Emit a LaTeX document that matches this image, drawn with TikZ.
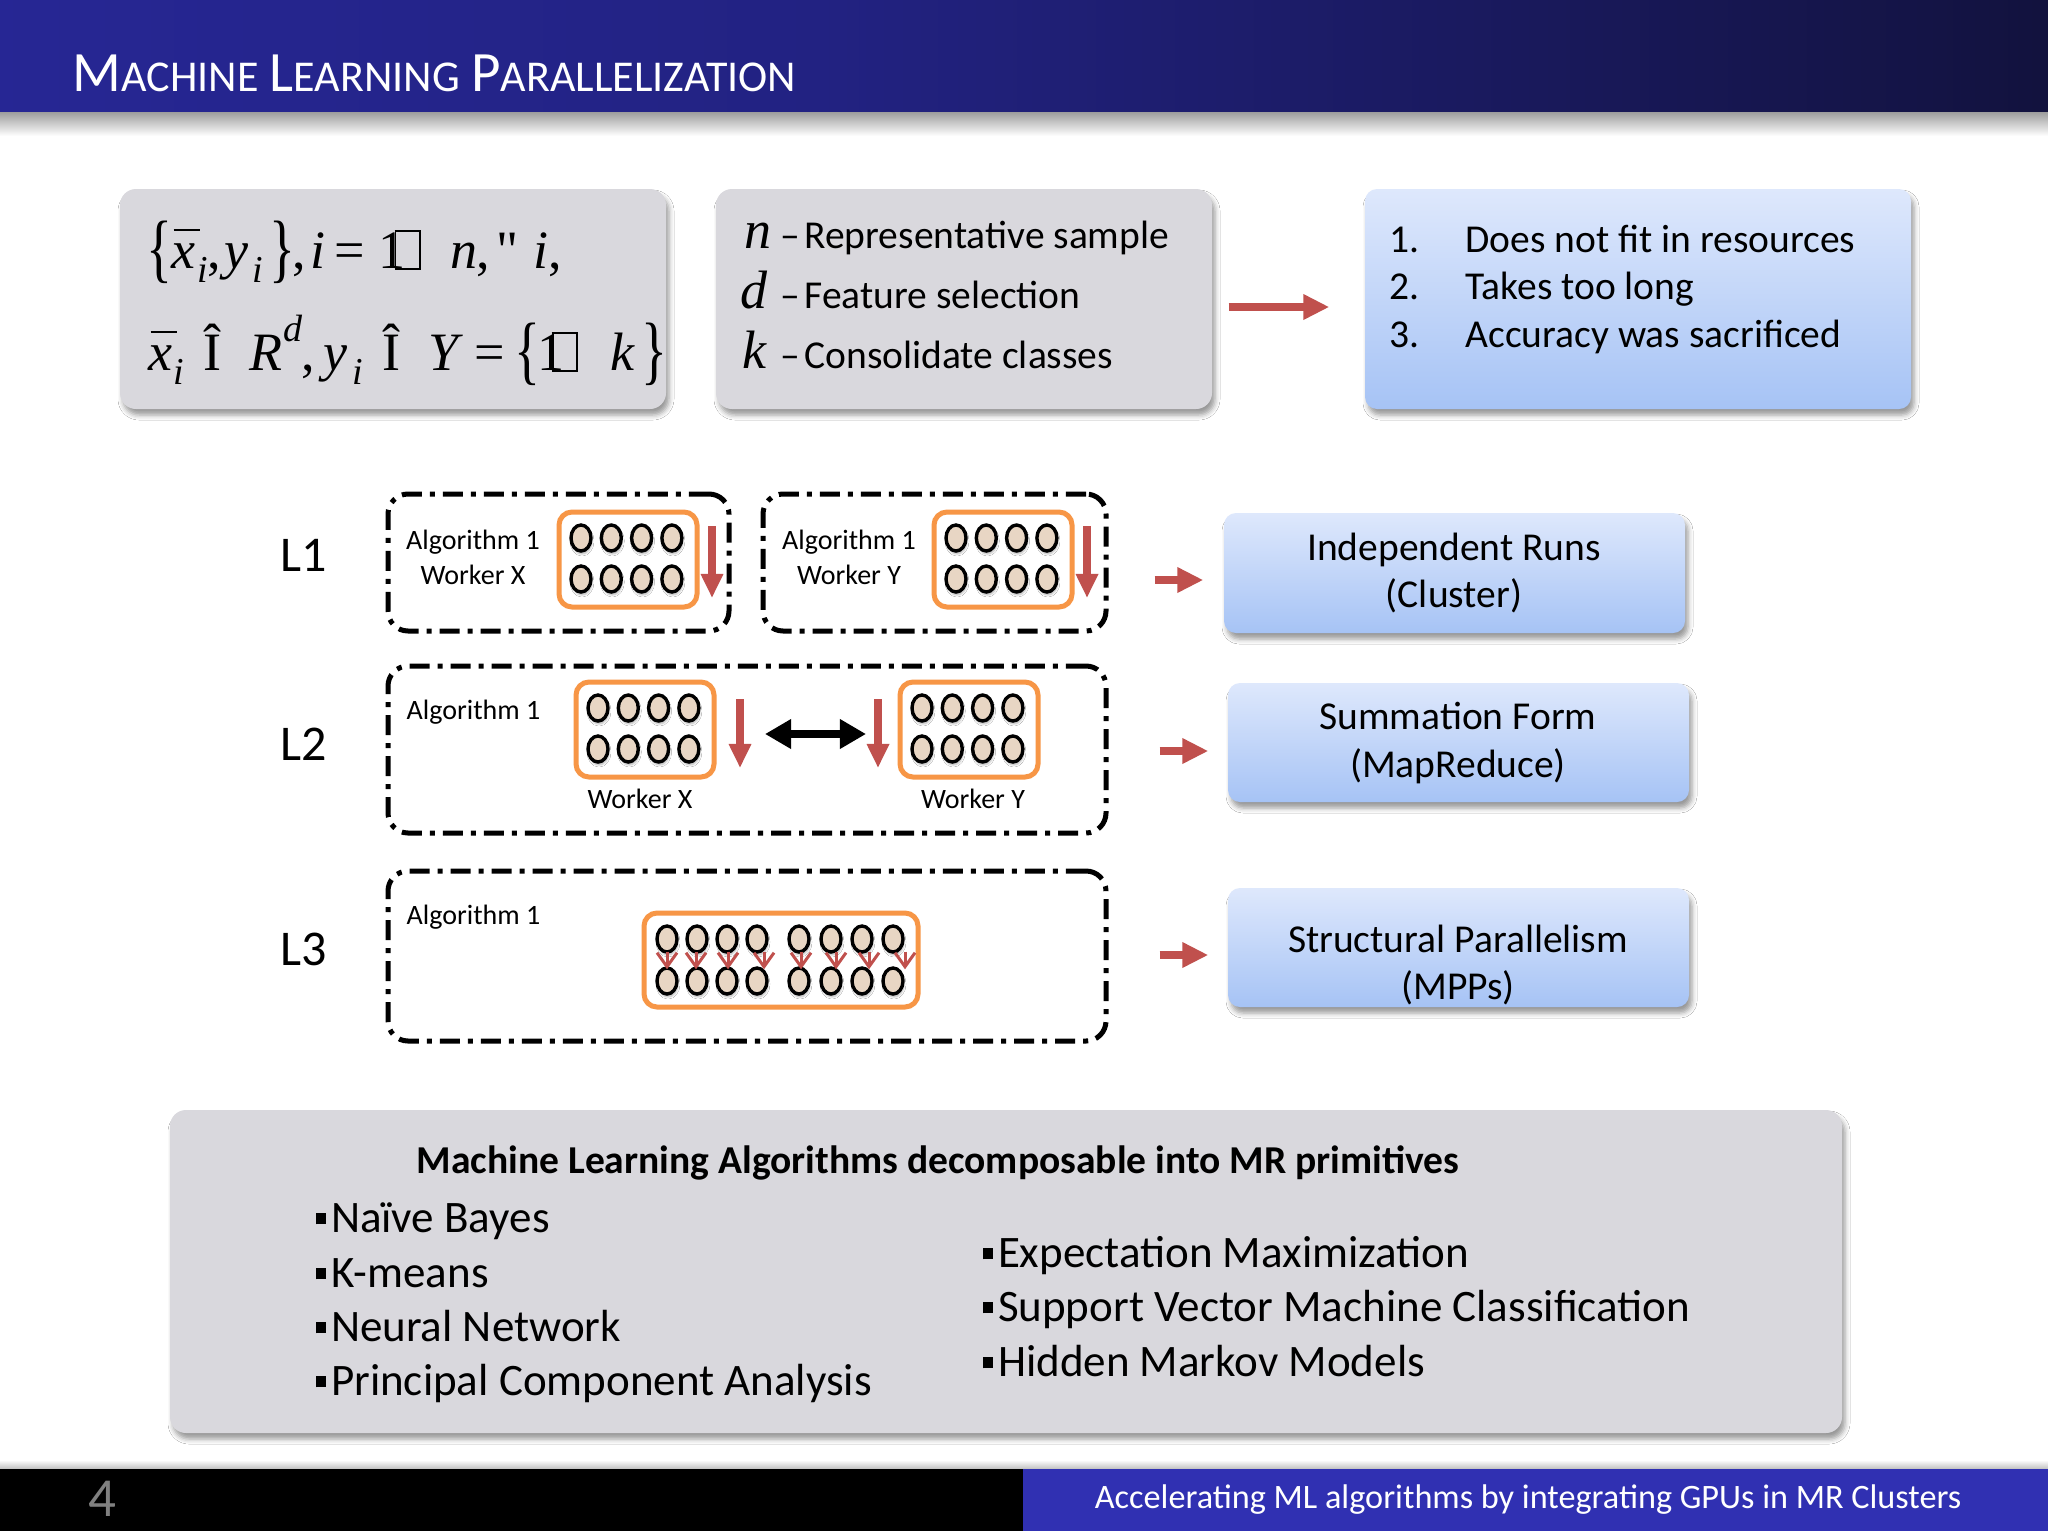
\documentclass[tikz,border=0pt]{standalone}
\usepackage{fontspec}
\setmainfont{Carlito}
\newfontfamily\tnr{Liberation Serif}
\usetikzlibrary{arrows.meta,shadows.blur,fit,calc,shapes.geometric}
\newcommand\px[2][1.2]{\fontsize{\fpeval{#2*0.28453}pt}{\fpeval{#2*0.28453*#1}pt}\selectfont}
\newcommand\gl[2]{\makebox[0pt][l]{\hspace*{\fpeval{#1*0.01}cm}#2}}
\newcommand\xb{\rlap{\hspace{0.04em}\rule[0.68em]{0.48em}{0.045em}}\textit{x}}
\newcommand\sbi{\raisebox{-0.14cm}{\px{38}\itshape i}}
\newcommand\spd{\raisebox{0.28cm}{\px{38}\itshape d}}
\newcommand\mbx{{\setlength\fboxsep{0pt}\setlength\fboxrule{0.035em}\fbox{\rule{0pt}{0.66em}\rule{0.42em}{0pt}}}}
\newcommand\bigbr[1]{\raisebox{-0.1em}{\scalebox{1}[1.4]{#1}}}
\newcommand\fsc[2]{{\px{57}#1}{\px{44}#2}}
\newcommand\bul{\rule[0.17em]{0.22em}{0.26em}\hspace{0.12em}}
\definecolor{hblue}{RGB}{44,44,170}
\definecolor{hblue2}{RGB}{34,34,130}
\definecolor{hmid}{RGB}{20,20,70}
\definecolor{hdark}{RGB}{5,5,12}
\definecolor{fblue}{RGB}{48,48,178}
\definecolor{boxgray}{RGB}{217,216,221}
\definecolor{btop}{RGB}{222,232,252}
\definecolor{bbot}{RGB}{166,195,245}
\definecolor{rred}{RGB}{192,80,77}
\definecolor{oorange}{RGB}{247,150,70}
\definecolor{beige}{RGB}{232,214,196}
\pgfdeclarehorizontalshading{hdr}{100bp}{color(0bp)=(hblue); color(45bp)=(hblue2); color(72bp)=(hmid); color(92bp)=(hdark); color(100bp)=(hdark)}
\newcommand\wbox[3]{%
  \node[obox, fit={(#2,#3) (#2+138,#3+95)}] (#1) {};
  \foreach \k in {0,...,3}{%
    \node[dot] (#1t\k) at (#2+22+30.3*\k, #3+26) {};
    \node[dot] (#1b\k) at (#2+22+30.3*\k, #3+67) {};
  }%
}
\begin{document}
\begin{tikzpicture}[x=0.01cm,y=-0.01cm,
  graybox/.style={fill=boxgray, rounded corners=0.16cm, inner sep=0,
    blur shadow={shadow xshift=0.03cm, shadow yshift=-0.06cm, shadow blur radius=0.05cm, shadow opacity=40}},
  bluebox/.style={top color=btop, bottom color=bbot, rounded corners=0.12cm, inner sep=0,
    blur shadow={shadow xshift=0.03cm, shadow yshift=-0.06cm, shadow blur radius=0.05cm, shadow opacity=40}},
  dbox/.style={draw=black, line width=0.05cm, dash pattern=on 0.2cm off 0.08cm on 0.05cm off 0.08cm, rounded corners=0.2cm, inner sep=0},
  obox/.style={draw=oorange, line width=0.05cm, rounded corners=0.13cm, fill=white, inner sep=0},
  dot/.style={ellipse, draw=black, line width=0.034cm, fill=beige, minimum width=0.2cm, minimum height=0.26cm, inner sep=0,
    blur shadow={shadow xshift=0.01cm, shadow yshift=-0.03cm, shadow blur radius=0.02cm, shadow opacity=30}},
  redarr/.style={draw=rred, line width=0.075cm, -{Triangle[length=0.26cm,width=0.24cm]}},
  downarr/.style={draw=rred, line width=0.08cm, -{Triangle[length=0.24cm,width=0.21cm]}},
  dblarr/.style={draw=black, line width=0.08cm, {Triangle[length=0.26cm,width=0.28cm]}-{Triangle[length=0.26cm,width=0.28cm]}},
  smallarr/.style={draw=rred, line width=0.03cm, -{Straight Barb[length=0.14cm,width=0.2cm]}},
  txt/.style={inner sep=0}
]
\useasboundingbox (0,0) rectangle (2048,1536);
\fill[white] (0,0) rectangle (2048,1536);
% header
\shade[top color=black!45, bottom color=white] (0,108) rectangle (2048,136);
\shade[shading=hdr] (0,0) rectangle (2048,111);
\node[txt, anchor=base west, text=white, font={\px{50}}] (title) at (72,91) {\fsc{M}{ACHINE} \fsc{L}{EARNING} \fsc{P}{ARALLELIZATION}};
% footer
\shade[top color=white, bottom color=black!25] (0,1460) rectangle (2048,1469);
\fill[black] (0,1469) rectangle (1023,1531);
\fill[fblue] (1023,1469) rectangle (2048,1531);
\node[txt, anchor=base, text=black!50, font={\px{55}}] (pg) at (102,1516) {4};
\node[txt, anchor=base east, text=white, font={\px{34.2}}] (foot) at (1962,1508) {Accelerating ML algorithms by integrating GPUs in MR Clusters};
% top boxes
\node[graybox, fit={(120,189) (666,409)}] (A) {};
\node[graybox, fit={(716,189) (1212,409)}] (B) {};
\node[bluebox, fit={(1365,189) (1911,409)}] (C) {};
\node[txt, anchor=base west, font={\tnr\px{54}}] (A1) at (144,268) {\gl{0}{\bigbr{\{}}\gl{25}{\xb}\gl{51}{\sbi}\gl{61}{,}\gl{78}{\textit{y}}\gl{106}{\sbi}\gl{123}{\bigbr{\}}}\gl{146}{,}\gl{164}{\textit{i}}\gl{188}{=}\gl{232}{1}\gl{248}{\mbx}\gl{304}{\textit{n}}\gl{330}{,}\gl{350}{"}\gl{387}{\textit{i}}\gl{402}{,}};
\node[txt, anchor=base west, font={\tnr\px{54}}] (A2) at (144,370) {\gl{2}{\xb}\gl{27}{\sbi}\gl{57}{Î}\gl{103}{\textit{R}}\gl{137}{\spd}\gl{155}{,}\gl{177}{\textit{y}}\gl{206}{\sbi}\gl{236}{Î}\gl{282}{\textit{Y}}\gl{328}{=}\gl{368}{\bigbr{\{}}\gl{391}{1}\gl{405}{\mbx}\gl{464}{\textit{k}}\gl{495}{\bigbr{\}}}};
\node[txt, anchor=base west, font={\px{39.5}}] (B1) at (742,248) {\gl{0}{\tnr\itshape\px{54}n}\gl{36}{–}\gl{60}{Representative sample}};
\node[txt, anchor=base west, font={\px{39.5}}] (B2) at (742,308) {\gl{-4}{\tnr\itshape\px{54}d}\gl{36}{–}\gl{60}{Feature selection}};
\node[txt, anchor=base west, font={\px{39.5}}] (B3) at (742,368) {\gl{-2}{\tnr\itshape\px{54}k}\gl{36}{–}\gl{60}{Consolidate classes}};
\node[txt, anchor=base west, font={\px{39.5}}] (C1) at (1387,252) {\gl{0}{1.}\gl{76}{Does not fit in resources}};
\node[txt, anchor=base west, font={\px{39.5}}] (C2) at (1387,299) {\gl{0}{2.}\gl{76}{Takes too long}};
\node[txt, anchor=base west, font={\px{39.5}}] (C3) at (1387,347) {\gl{0}{3.}\gl{76}{Accuracy was sacrificed}};
\draw[redarr] ($(B.east)+(16,8)$) -- ($(C.west)+(-35,8)$);
% levels
\node[txt, font={\px{50}}] (L1) at (304,555) {L1};
\node[txt, font={\px{50}}] (L2) at (304,744) {L2};
\node[txt, font={\px{50}}] (L3) at (304,949) {L3};
\node[dbox, fit={(388,494) (729,631)}] (D1a) {};
\node[dbox, fit={(763,494) (1106,631)}] (D1b) {};
\node[dbox, fit={(388,666) (1106,833)}] (D2) {};
\node[dbox, fit={(388,871) (1106,1041)}] (D3) {};
% L1
\node[txt, align=center, font={\px[1.25]{28}}] (t1a) at (473,557) {Algorithm 1\\Worker X};
\wbox{W1a}{559}{512}
\coordinate (d1as) at (712,526); \coordinate (d1ae) at (712,598);
\draw[downarr] (d1as) -- (d1ae);
\node[txt, align=center, font={\px[1.25]{28}}] (t1b) at (849,557) {Algorithm 1\\Worker Y};
\wbox{W1b}{934}{512}
\coordinate (d1bs) at (1087,526); \coordinate (d1be) at (1087,598);
\draw[downarr] (d1bs) -- (d1be);
% L2
\node[txt, anchor=west, font={\px{28}}] (t2) at (406,712) {Algorithm 1};
\wbox{W2x}{576}{682}
\node[txt, font={\px{28}}] (wx) at (640,799) {Worker X};
\coordinate (d2xs) at (740,699); \coordinate (d2xe) at (740,768);
\draw[downarr] (d2xs) -- (d2xe);
\coordinate (dl) at (765,734); \coordinate (dr) at (866,734);
\draw[dblarr] (dl) -- (dr);
\coordinate (d2ys) at (878,699); \coordinate (d2ye) at (878,768);
\draw[downarr] (d2ys) -- (d2ye);
\wbox{W2y}{900}{682}
\node[txt, font={\px{28}}] (wy) at (973,799) {Worker Y};
% L3
\node[txt, anchor=west, font={\px{28}}] (t3) at (406,917) {Algorithm 1};
\node[obox, fit={(644,913) (918,1007)}] (W3) {};
\foreach \xx [count=\n] in {667,697,727,757,799,831,862,893}{
  \node[dot] (W3t\n) at (\xx,939) {};
  \node[dot] (W3b\n) at (\xx,981) {};
}
\foreach \n/\dx in {1/0,2/-1,3/1,4/7,5/2,6/5,7/7,8/12}{
  \draw[smallarr] ($(W3t\n.south)+(\dx,-2)$) -- ($(W3b\n.north)+(\dx,3)$);
}
% right boxes
\node[bluebox, fit={(1224,513) (1685,633)}] (R1) {};
\node[txt, align=center, font={\px[1.19]{39.5}}] (R1t) at (1454,573) {Independent Runs\\(Cluster)};
\node[bluebox, fit={(1228,683) (1689,802)}] (R2) {};
\node[txt, align=center, font={\px[1.19]{39.5}}] (R2t) at (1458,743) {Summation Form\\(MapReduce)};
\node[bluebox, fit={(1228,888) (1689,1007)}] (R3) {};
\node[txt, align=center, font={\px[1.19]{39.5}}] (R3t) at (1458,965) {Structural Parallelism\\(MPPs)};
\draw[redarr] ($(D1b.east)+(46,17.5)$) -- ($(R1.west)+(-20,7)$);
\draw[redarr] ($(D2.east)+(51,1.5)$) -- ($(R2.west)+(-19,8.5)$);
\draw[redarr] ($(D3.east)+(51,-1)$) -- ($(R3.west)+(-19,7.5)$);
% bottom box
\node[graybox, fit={(170,1110) (1842,1433)}] (E) {};
\node[txt, anchor=base, font={\bfseries\px{39.5}}] (Et) at (938,1173) {Machine Learning Algorithms decomposable into MR primitives};
\node[txt, anchor=base west, font={\px{45}}] (e1) at (315,1232) {\bul Naïve Bayes};
\node[txt, anchor=base west, font={\px{45}}] (e2) at (315,1287) {\bul K-means};
\node[txt, anchor=base west, font={\px{45}}] (e3) at (315,1341) {\bul Neural Network};
\node[txt, anchor=base west, font={\px{45}}] (e4) at (315,1395) {\bul Principal Component Analysis};
\node[txt, anchor=base west, font={\px{45}}] (e5) at (982,1267) {\bul Expectation Maximization};
\node[txt, anchor=base west, font={\px{45}}] (e6) at (982,1321) {\bul Support Vector Machine Classification};
\node[txt, anchor=base west, font={\px{45}}] (e7) at (982,1376) {\bul Hidden Markov Models};
\end{tikzpicture}
\end{document}
